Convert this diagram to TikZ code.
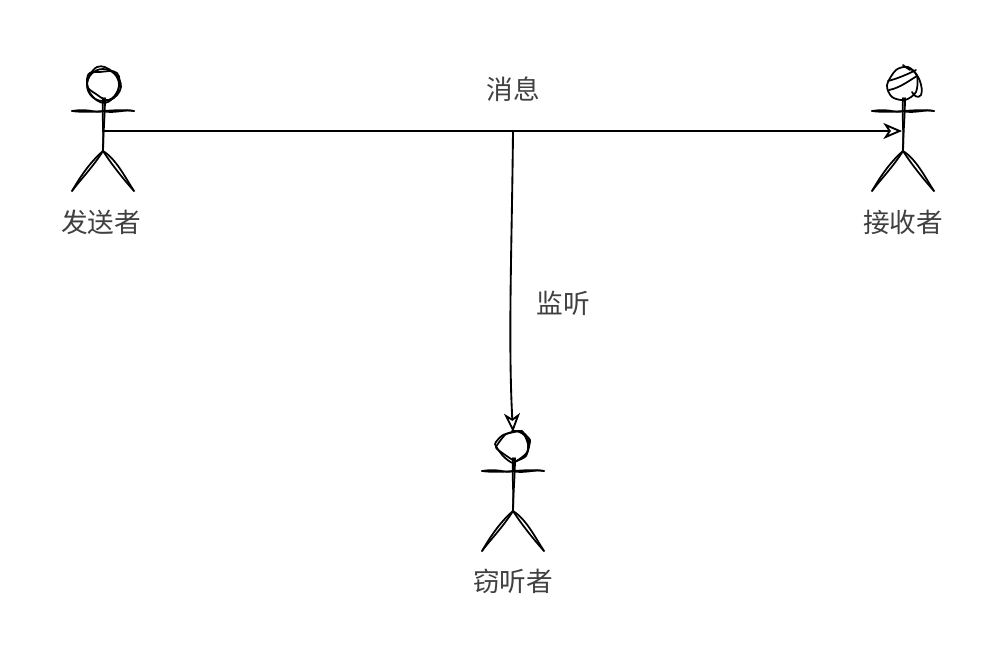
\documentclass[tikz,border=0pt]{standalone}
\usepackage{fontspec}
\setmainfont{Noto Sans CJK SC}
\usetikzlibrary{calc}
\usetikzlibrary{positioning}
\usetikzlibrary{arrows.meta}
\tikzset{
  sketchLine/.style={%
    line width=1.3pt, line join=round, line cap=round, draw=black,
  },
  msgArrow/.style={%
    line width=1.4pt, -{Stealth[open,length=14pt,width=12pt,inset=4pt,line width=1.4pt]},
  },
  defaultLabel/.style={%
    font=\fontsize{20}{24}\selectfont, text=black!75, inner sep=0pt,
  },
  stickman/.pic={
    \coordinate (-top) at (0,-39);
    \coordinate (-chest) at (-1,20);
    \draw[sketchLine] (-31,0) .. controls (-12,-3) and (-8,3) .. (0,0) .. controls (10,3) and (22,-2) .. (31,0);
    \draw[sketchLine] (-31,0) .. controls (-10,3) and (12,-3) .. (31,0);
    \draw[sketchLine] (0,-13) .. controls (-1,10) and (1,20) .. (0,40);
    \draw[sketchLine] (2,-13) .. controls (2,5) and (0,25) .. (0,40);
    \draw[sketchLine] (0,40) .. controls (-14,52) and (-24,68) .. (-31,80);
    \draw[sketchLine] (0,40) .. controls (-10,56) and (-22,68) .. (-31,80);
    \draw[sketchLine] (0,40) .. controls (13,48) and (22,66) .. (31,80);
    \draw[sketchLine] (0,40) .. controls (9,54) and (22,70) .. (31,80);
  },
}

\begin{document}
\begin{tikzpicture}[x=0.75pt,y=-0.75pt]
  \useasboundingbox (0,0) rectangle (1004,660);

  \pic (sender) at (103,111) {stickman};
  \pic (receiver) at (903,111) {stickman};
  \pic (listener) at (513,471) {stickman};

  % heads
  \draw[sketchLine] (103,85) circle (16);
  \draw[sketchLine] plot[smooth cycle,tension=0.7] coordinates {(87,84) (97,67) (113,72) (121,87) (110,100) (96,94)};
  \draw[sketchLine] plot[smooth cycle,tension=0.7] coordinates {(88,75) (100,72) (117,73) (118,90) (105,103) (90,93)};
  \draw[sketchLine] plot[smooth cycle,tension=0.5] coordinates {(887,85) (896,70) (908,67) (917,76) (916,92) (905,100) (892,97)};
  \draw[sketchLine] (888,81) .. controls (900,78) and (912,72) .. (916,70);
  \draw[sketchLine] (889,90) .. controls (900,88) and (910,80) .. (917,76);
  \draw[sketchLine] (908,68) .. controls (918,70) and (924,88) .. (921,95) .. controls (918,99) and (914,96) .. (912,92);
  \draw[sketchLine] (903,65) .. controls (906,68) and (908,68) .. (910,70);
  \draw[sketchLine] plot[smooth cycle,tension=0.3] coordinates {(495,444) (503,435) (522,431) (528,444) (527,453) (513,463) (503,456)};
  \draw[sketchLine] plot[smooth cycle,tension=0.3] coordinates {(496,447) (506,434) (520,431) (530,440) (526,456) (515,461) (501,452)};
  \draw[sketchLine] (512,431) .. controls (522,430) and (530,438) .. (528,448);
  \draw[sketchLine] (525,434) .. controls (531,442) and (529,452) .. (524,456);
  \draw[sketchLine] (513,463) .. controls (513,465) and (514,467) .. (513,470);

  % message lines
  \coordinate (tap) at (513,131);
  \draw[msgArrow] (sender-chest) -- (receiver-chest);
  \draw[msgArrow] (tap) .. controls (512,240) and (508,340) .. (listener-top);

  % labels
  \node[defaultLabel] (senderLabel) at (101,222) {发送者};
  \node[defaultLabel] (receiverLabel) at (903,222) {接收者};
  \node[defaultLabel] (listenerLabel) at (513,581) {窃听者};
  \node[defaultLabel] (msgLabel) at (513,89) {消息};
  \node[defaultLabel] (listenLabel) at (563,303) {监听};

\end{tikzpicture}
\end{document}
